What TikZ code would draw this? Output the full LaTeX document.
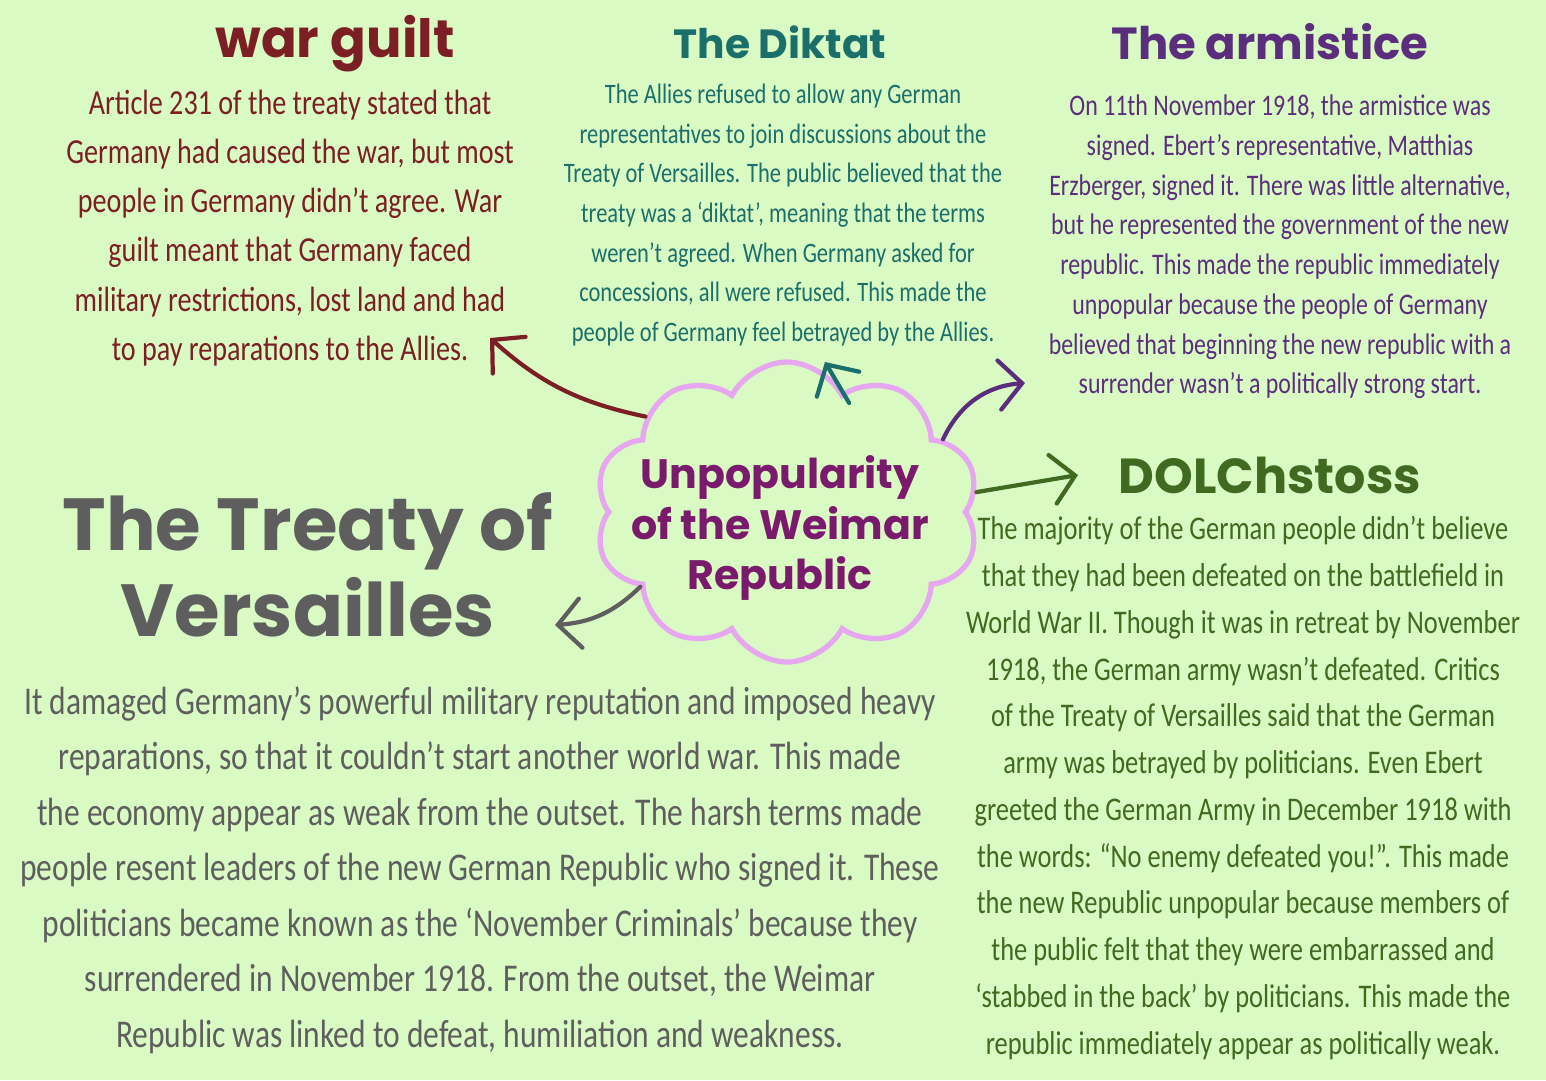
\documentclass[tikz,border=0pt]{standalone}
\usepackage{fontspec}
\newfontfamily\handfont{Carlito}[FakeStretch=0.8]
\newfontfamily\headfont{Poppins Bold}
\usetikzlibrary{shapes.symbols,arrows.meta}
\definecolor{bg}{HTML}{D9FBC3}
\definecolor{guiltred}{HTML}{7B1F24}
\definecolor{diktatteal}{HTML}{1B6F6B}
\definecolor{armpurple}{HTML}{5B2E7D}
\definecolor{dolchgreen}{HTML}{3F6A1F}
\definecolor{treatygray}{HTML}{5E5E5E}
\definecolor{hubpurple}{HTML}{7A1A6C}
\definecolor{cloudpink}{HTML}{E6A6F0}
\begin{document}
\begin{tikzpicture}[x=0.1mm,y=-0.1mm,
  blurb/.style={align=center,inner sep=0pt},
  heading/.style={align=center,inner sep=0pt},
  link/.style={line width=1.2pt,line cap=round,-{Straight Barb[length=6.5pt,width=14pt,line cap=round]}}]
\fill[bg] (0,0) rectangle (1546,1080);
\useasboundingbox (0,0) rectangle (1546,1080);
\node[cloud,cloud puffs=10,cloud puff arc=125,aspect=1.25,draw=cloudpink,line width=1.5pt,minimum width=3.85cm,minimum height=3cm] (hub) at (787,512) {};
\node[heading,text=hubpurple,font=\headfont\fontsize{11.7}{14.5}\selectfont] (hubtext) at (780,528) {Unpopularity\\of the Weimar\\Republic};
\node[heading,text=guiltred,font=\headfont\fontsize{15}{18}\selectfont] (guilthead) at (335,44) {war guilt};
\node[blurb,text=guiltred,font=\handfont\fontsize{10}{14}\selectfont] (guilt) at (290,228) {Article 231 of the treaty stated that\\Germany had caused the war, but most\\people in Germany didn’t agree. War\\guilt meant that Germany faced\\military restrictions, lost land and had\\to pay reparations to the Allies.};
\node[heading,text=diktatteal,font=\headfont\fontsize{11.6}{15}\selectfont] (diktathead) at (780,42) {The Diktat};
\node[blurb,text=diktatteal,font=\handfont\fontsize{8}{11.3}\selectfont] (diktat) at (783,215) {The Allies refused to allow any German\\representatives to join discussions about the\\Treaty of Versailles. The public believed that the\\treaty was a ‘diktat’, meaning that the terms\\weren’t agreed. When Germany asked for\\concessions, all were refused. This made the\\people of Germany feel betrayed by the Allies.};
\node[heading,text=armpurple,font=\headfont\fontsize{12.8}{15}\selectfont] (armhead) at (1270,42) {The armistice};
\node[blurb,text=armpurple,font=\handfont\fontsize{8.5}{11.3}\selectfont] (arm) at (1280,247) {On 11th November 1918, the armistice was\\signed. Ebert’s representative, Matthias\\Erzberger, signed it. There was little alternative,\\but he represented the government of the new\\republic. This made the republic immediately\\unpopular because the people of Germany\\believed that beginning the new republic with a\\surrender wasn’t a politically strong start.};
\node[heading,text=dolchgreen,font=\headfont\fontsize{14}{17}\selectfont] (dolchhead) at (1270,475) {DOLChstoss};
\node[blurb,text=dolchgreen,font=\handfont\fontsize{9.4}{13.3}\selectfont] (dolch) at (1243,788) {The majority of the German people didn’t believe\\that they had been defeated on the battlefield in\\World War II. Though it was in retreat by November\\1918, the German army wasn’t defeated. Critics\\of the Treaty of Versailles said that the German\\army was betrayed by politicians. Even Ebert\\greeted the German Army in December 1918 with\\the words: “No enemy defeated you!”. This made\\the new Republic unpopular because members of\\the public felt that they were embarrassed and\\‘stabbed in the back’ by politicians. This made the\\republic immediately appear as politically weak.};
\node[heading,text=treatygray,font=\headfont\fontsize{21}{24.4}\selectfont] (treatyhead) at (308,565) {The Treaty of\\Versailles};
\node[blurb,text=treatygray,font=\handfont\fontsize{11.2}{15.8}\selectfont] (treaty) at (480,870) {It damaged Germany’s powerful military reputation and imposed heavy\\reparations, so that it couldn’t start another world war. This made\\the economy appear as weak from the outset. The harsh terms made\\people resent leaders of the new German Republic who signed it. These\\politicians became known as the ‘November Criminals’ because they\\surrendered in November 1918. From the outset, the Weimar\\Republic was linked to defeat, humiliation and weakness.};
\coordinate (guilttip) at (490,338);
\coordinate (diktattip) at (825,362);
\coordinate (armtip) at (1025,383);
\coordinate (dolchtip) at (1078,475);
\coordinate (treatytip) at (555,625);
\draw[link,guiltred] (hub.146) to[bend left=15] (guilttip);
\draw[link,diktatteal,shorten <=-6pt] (hub.68) -- (diktattip);
\draw[link,armpurple] (hub.25) to[bend left=30] (armtip);
\draw[link,dolchgreen] (hub.6) -- (dolchtip);
\draw[link,treatygray] (hub.207) to[bend left=20] (treatytip);
\end{tikzpicture}
\end{document}
